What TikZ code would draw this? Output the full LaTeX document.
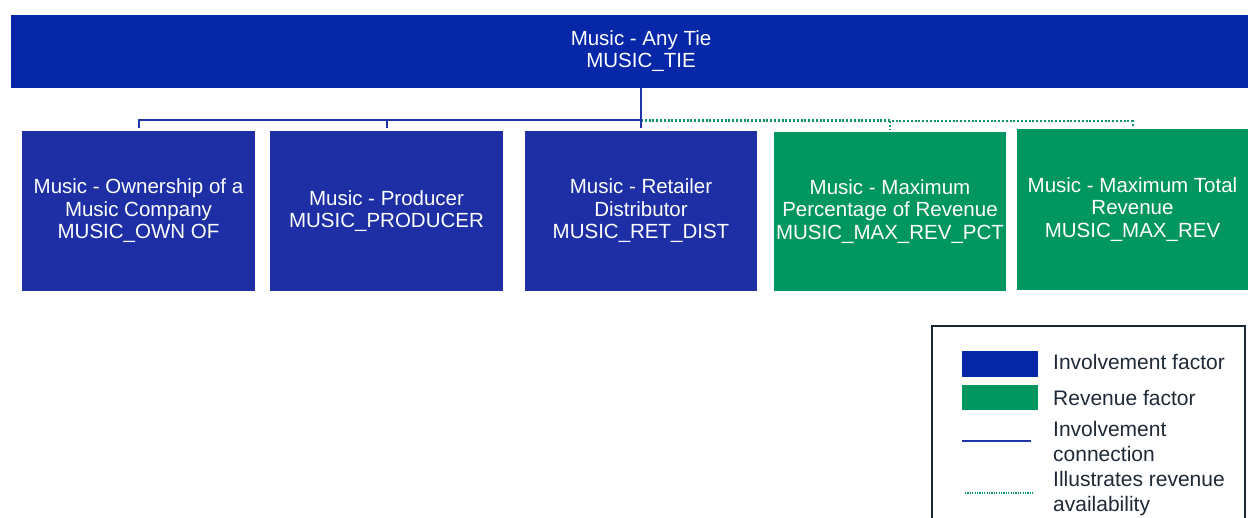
\documentclass[tikz,border=0pt]{standalone}
\usepackage{fontspec}
\setmainfont{Liberation Sans}
\definecolor{topblue}{HTML}{0527A8}
\definecolor{invblue}{HTML}{1E2FA5}
\definecolor{revgreen}{HTML}{00965F}
\definecolor{lineblue}{HTML}{1F35A8}
\definecolor{dotgreen}{HTML}{12946A}
\definecolor{legtext}{HTML}{1F2A36}
\definecolor{legframe}{HTML}{1A2633}
\begin{document}
\begin{tikzpicture}[x=1pt,y=-1pt,
  boxtext/.style={text=white, align=center, inner sep=0pt, font=\fontsize{20.5}{22.5}\selectfont},
  invbox/.style={boxtext, rectangle, fill=invblue, minimum width=233pt, minimum height=160pt},
  revbox/.style={boxtext, rectangle, fill=revgreen, minimum width=232pt, minimum height=160pt},
  invline/.style={draw=lineblue, line width=2pt},
  revline/.style={draw=dotgreen, line width=2pt, dash pattern=on 2pt off 1.8pt},
  legtxt/.style={anchor=west, text=legtext, align=left, inner sep=0pt, font=\fontsize{21}{25}\selectfont},
  swatch/.style={rectangle, minimum width=76pt, minimum height=26pt, inner sep=0pt}]
\clip (0,0) rectangle (1248,517);
\fill[white] (0,0) rectangle (1248,517);

% top node
\node[boxtext, rectangle, fill=topblue, minimum width=1260pt, minimum height=73pt] (tie) at (641,51) {Music - Any Tie\\MUSIC\_TIE};

% children
\node[invbox] (b1) at (138.5,211) {Music - Ownership of a\\Music Company\\MUSIC\_OWN OF};
\node[invbox] (b2) at (386.5,211) {Music - Producer\\MUSIC\_PRODUCER};
\node[invbox, minimum width=232pt] (b3) at (641,211) {Music - Retailer\\Distributor\\MUSIC\_RET\_DIST};
\node[revbox, minimum height=159pt] (b4) at (890,211.5) {Music - Maximum\\Percentage of Revenue\\MUSIC\_MAX\_REV\_PCT};
\node[revbox, minimum width=231pt, minimum height=161pt] (b5) at (1132.5,209.5) {Music - Maximum Total\\Revenue\\MUSIC\_MAX\_REV};

% connectors
\coordinate (j) at (641,120);
\coordinate (jg) at (641,119.5);
\draw[revline] (jg) -| ([yshift=2pt]b4.north);
\draw[revline] ([yshift=-1.5pt]jg) -| ([yshift=3pt]b5.north);
\draw[invline] (tie.south -| b3.north) -- ([yshift=3pt]b3.north);
\draw[invline] (j) -| ([yshift=3pt]b1.north);
\draw[invline] (j -| b2.north) -- ([yshift=3pt]b2.north);

% legend
\draw[legframe, line width=2pt] (932,326) rectangle (1245,540);
\node[swatch, fill=topblue] (sw1) at (1000,364) {};
\node[swatch, fill=revgreen, minimum height=25pt] (sw2) at (1000,397.5) {};
\coordinate (l1a) at (962,441);
\coordinate (l1b) at (1031,441);
\draw[draw=lineblue, line width=1.5pt] (l1a) -- (l1b);
\coordinate (l2a) at (965,493);
\coordinate (l2b) at (1033,493);
\draw[draw=dotgreen, line width=1.3pt, dash pattern=on 1.2pt off 1.2pt] (l2a) -- (l2b);
\node[legtxt] (t1) at (1053,362) {Involvement factor};
\node[legtxt] (t2) at (1053,398) {Revenue factor};
\node[legtxt] (t3) at (1053,441.5) {Involvement\\connection};
\node[legtxt] (t4) at (1053,494) {Illustrates revenue\\availability};
\end{tikzpicture}
\end{document}
